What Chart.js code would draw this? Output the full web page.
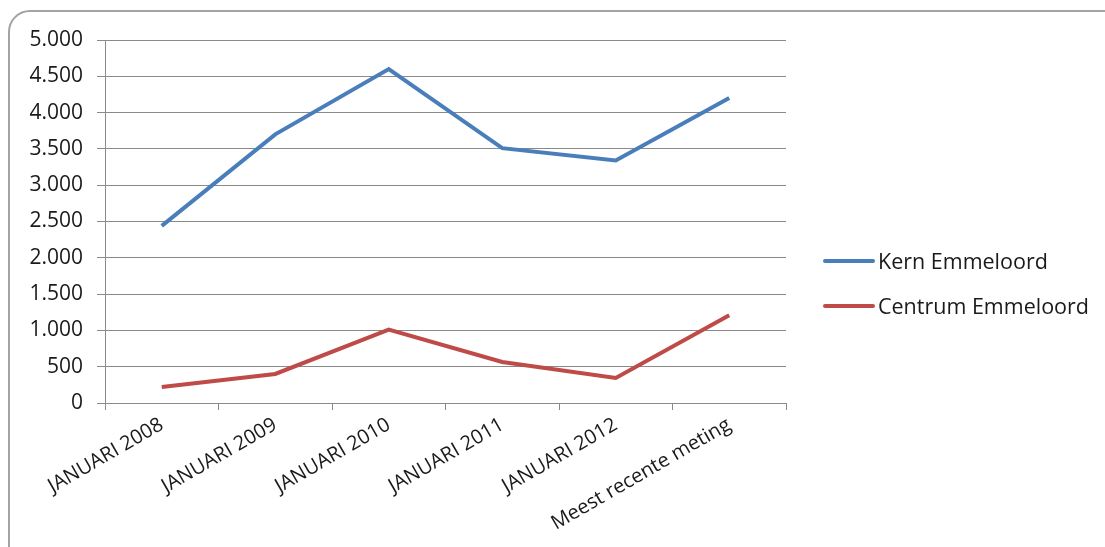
<!DOCTYPE html>
<html>
<head>
<meta charset="utf-8">
<script src="https://cdn.jsdelivr.net/npm/chart.js@4"></script>
<style>
    html, body { margin: 0; padding: 0; background: #fff; overflow: hidden; }
    body { width: 1105px; height: 547px; position: relative; font-family: 'Open Sans', sans-serif; }
    .frame {
        position: absolute; left: 8px; top: 10px; width: 1120px; height: 560px;
        border: 2px solid #a3a3a3; border-radius: 22px; box-sizing: border-box;
    }
    #chartWrap { position: absolute; left: 0; top: 0; width: 1105px; height: 547px; }
    .legend { position: absolute; left: 823px; top: 238px; }
    .legend-item { display: flex; align-items: center; height: 45px; font-size: 21.5px; color: #1a1a1a; }
    .legend-line { width: 52px; height: 4px; border-radius: 2px; margin-right: 3px; }
</style>
</head>
<body>
<div class="frame"></div>
<div id="chartWrap"><canvas id="lineChart"></canvas></div>
<div class="legend" id="legend"></div>
<script>
// ==================== DATA ====================
const categories = ['JANUARI 2008', 'JANUARI 2009', 'JANUARI 2010', 'JANUARI 2011', 'JANUARI 2012', 'Meest recente meting'];
const kernValues = [2440, 3700, 4600, 3510, 3340, 4200];
const centrumValues = [220, 400, 1010, 565, 345, 1210];
const seriesNames = ['Kern Emmeloord', 'Centrum Emmeloord'];
const seriesColors = ['#4a7ebb', '#be4b48'];
const yTicks = [0, 500, 1000, 1500, 2000, 2500, 3000, 3500, 4000, 4500, 5000];

const fmt = v => v.toLocaleString('nl-NL');

// ==================== CHART ====================
const datasets = [kernValues, centrumValues].map((vals, i) => ({
    label: seriesNames[i],
    data: vals,
    borderColor: seriesColors[i],
    backgroundColor: seriesColors[i],
    borderWidth: 4,
    pointRadius: 0,
    tension: 0,
    fill: false,
    borderJoinStyle: 'miter'
}));

new Chart(document.getElementById('lineChart'), {
    type: 'line',
    data: { labels: categories, datasets },
    options: {
        responsive: true,
        maintainAspectRatio: false,
        animation: false,
        layout: { padding: { left: 0, right: 319, top: 40, bottom: 0 } },
        plugins: { legend: { display: false }, tooltip: { enabled: false } },
        scales: {
            x: {
                offset: true,
                grid: { display: true, offset: true, drawOnChartArea: false, color: '#8a8a8a', tickLength: 7 },
                border: { color: '#8a8a8a' },
                ticks: {
                    color: '#1a1a1a',
                    font: { family: 'Open Sans', size: 20 },
                    minRotation: 30,
                    maxRotation: 30,
                    padding: 3,
                    autoSkip: false
                },
                afterFit: s => { s.height = 144; }
            },
            y: {
                min: 0,
                max: 5000,
                afterBuildTicks: s => { s.ticks = yTicks.map(v => ({ value: v })); },
                grid: { color: '#8a8a8a', tickLength: 8 },
                border: { color: '#8a8a8a' },
                ticks: {
                    color: '#1a1a1a',
                    font: { family: 'Open Sans', size: 21 },
                    padding: 14,
                    callback: v => fmt(v)
                },
                afterFit: s => { s.width = 105; }
            }
        }
    }
});

// ==================== LEGEND ====================
document.getElementById('legend').innerHTML = seriesNames.map((name, i) =>
    `<div class="legend-item"><div class="legend-line" style="background:${seriesColors[i]}"></div><span>${name}</span></div>`
).join('');
</script>
</body>
</html>
